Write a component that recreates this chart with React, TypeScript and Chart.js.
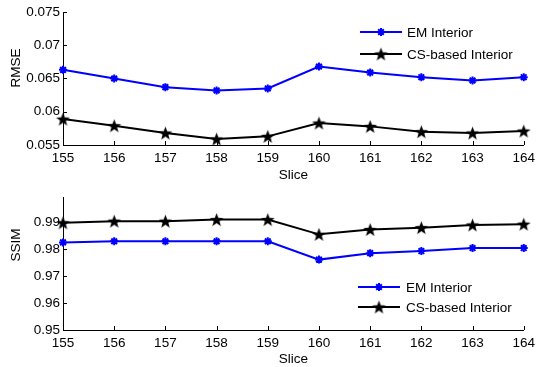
import React, { useEffect, useRef } from 'react';
import { Chart, registerables } from 'chart.js';
Chart.register(...registerables);

const slices = ['155', '156', '157', '158', '159', '160', '161', '162', '163', '164'];
const rmseEM = [0.0663, 0.065, 0.0637, 0.0632, 0.0635, 0.0668, 0.0659, 0.0652, 0.0647, 0.0652];
const rmseCS = [0.0589, 0.0579, 0.0568, 0.0559, 0.0563, 0.0583, 0.0578, 0.057, 0.0568, 0.0571];
const ssimEM = [0.9826, 0.983, 0.983, 0.983, 0.983, 0.9762, 0.9786, 0.9794, 0.9805, 0.9805];
const ssimCS = [0.9899, 0.9905, 0.9905, 0.9911, 0.9911, 0.9856, 0.9874, 0.9881, 0.9891, 0.9894];
const rmseTicks = [0.055, 0.06, 0.065, 0.07, 0.075];
const ssimTicks = [0.95, 0.96, 0.97, 0.98, 0.99];
const seriesNames = ['EM Interior', 'CS-based Interior'];

const FONT_FAMILY = '"Liberation Sans", Arial, Helvetica, sans-serif';
const FONT = { family: FONT_FAMILY, size: 13.5 };

function makePentagram(): HTMLCanvasElement {
  const c = document.createElement('canvas');
  const s = 15;
  c.width = s;
  c.height = s;
  const ctx = c.getContext('2d')!;
  const cx = s / 2, cy = s / 2 + 0.6;
  const R = 7.2, r = 3.0;
  ctx.beginPath();
  for (let i = 0; i < 10; i++) {
    const rad = i % 2 === 0 ? R : r;
    const a = -Math.PI / 2 + (i * Math.PI) / 5;
    const px = cx + rad * Math.cos(a);
    const py = cy + rad * Math.sin(a);
    if (i === 0) ctx.moveTo(px, py);
    else ctx.lineTo(px, py);
  }
  ctx.closePath();
  ctx.fillStyle = '#000';
  ctx.fill();
  return c;
}

function drawAsterisk(ctx: CanvasRenderingContext2D, x: number, y: number, rad: number, color: string) {
  ctx.save();
  ctx.strokeStyle = color;
  ctx.lineWidth = 2;
  ctx.beginPath();
  ctx.moveTo(x - rad, y); ctx.lineTo(x + rad, y);
  ctx.moveTo(x, y - rad); ctx.lineTo(x, y + rad);
  const d = rad * 0.707;
  ctx.moveTo(x - d, y - d); ctx.lineTo(x + d, y + d);
  ctx.moveTo(x - d, y + d); ctx.lineTo(x + d, y - d);
  ctx.stroke();
  ctx.restore();
}

const decoPlugin = {
  id: 'deco',
  afterDraw(chart: any, _args: any, opts: any) {
    const ctx: CanvasRenderingContext2D = chart.ctx;
    const xs = chart.scales.x;
    const ys = chart.scales.y;
    const area = chart.chartArea;
    ctx.save();
    ctx.strokeStyle = '#000';
    ctx.lineWidth = 1;
    xs.ticks.forEach((_t: any, i: number) => {
      const px = Math.round(xs.getPixelForTick(i)) + 0.5;
      ctx.beginPath();
      ctx.moveTo(px, area.bottom);
      ctx.lineTo(px, area.bottom - 4);
      ctx.stroke();
    });
    ys.ticks.forEach((_t: any, i: number) => {
      const py = Math.round(ys.getPixelForTick(i)) + 0.5;
      ctx.beginPath();
      ctx.moveTo(area.left, py);
      ctx.lineTo(area.left + 4, py);
      ctx.stroke();
    });
    // y title
    ctx.save();
    ctx.translate(opts.yTitleX, opts.yTitleY);
    ctx.rotate(-Math.PI / 2);
    ctx.fillStyle = '#000';
    ctx.font = `13.5px ${FONT_FAMILY}`;
    ctx.textAlign = 'center';
    ctx.textBaseline = 'middle';
    ctx.fillText(opts.yTitle, 0, 0);
    ctx.restore();
    // legend
    const rows: number[] = opts.legendRows;
    chart.data.datasets.forEach((ds: any, i: number) => {
      const yy = rows[i];
      ctx.strokeStyle = ds.borderColor;
      ctx.lineWidth = 2;
      ctx.beginPath();
      ctx.moveTo(opts.legendX0, yy);
      ctx.lineTo(opts.legendX1, yy);
      ctx.stroke();
      const mx = (opts.legendX0 + opts.legendX1) / 2;
      if (ds.pointStyle === 'star') {
        drawAsterisk(ctx, mx, yy, 4, ds.borderColor);
      } else {
        const img = ds.pointStyle as HTMLCanvasElement;
        ctx.drawImage(img, mx - img.width / 2, yy - img.height / 2);
      }
      ctx.fillStyle = '#000';
      ctx.font = `13.5px ${FONT_FAMILY}`;
      ctx.textAlign = 'left';
      ctx.textBaseline = 'middle';
      ctx.fillText(ds.label, opts.legendTextX, yy + 1);
    });
    ctx.restore();
  },
};

function buildConfig(
  em: number[], cs: number[], ticks: number[], min: number, max: number,
  topPad: number, xHeight: number, deco: any, star: HTMLCanvasElement
): any {
  return {
    type: 'line',
    data: {
      labels: slices,
      datasets: [
        {
          label: seriesNames[0], data: em, borderColor: '#0000ff', backgroundColor: '#0000ff',
          borderWidth: 2, pointStyle: 'star', pointRadius: 4, pointBorderWidth: 2,
          pointBorderColor: '#0000ff', tension: 0,
        },
        {
          label: seriesNames[1], data: cs, borderColor: '#000000', backgroundColor: '#000000',
          borderWidth: 2, pointStyle: star, pointRadius: 7, tension: 0,
        },
      ],
    },
    options: {
      responsive: false,
      maintainAspectRatio: false,
      animation: false,
      layout: { padding: { top: topPad, right: 12, left: 0, bottom: 0 } },
      plugins: { legend: { display: false }, tooltip: { enabled: false }, deco },
      scales: {
        x: {
          type: 'category',
          offset: false,
          grid: { display: false, drawTicks: false },
          border: { display: true, color: '#000', width: 1 },
          ticks: { color: '#000', font: FONT, padding: 5, maxRotation: 0, autoSkip: false },
          title: { display: true, text: 'Slice', color: '#000', font: FONT, padding: { top: 0, bottom: 0 } },
          afterFit: (s: any) => { s.height = xHeight; },
        },
        y: {
          min, max,
          grid: { display: false, drawTicks: false },
          border: { display: true, color: '#000', width: 1 },
          ticks: {
            color: '#000', font: FONT, padding: 3,
            callback: (v: any) => String(Number(Number(v).toFixed(4))),
          },
          afterBuildTicks: (s: any) => { s.ticks = ticks.map((v) => ({ value: v })); },
          afterFit: (s: any) => { s.width = 63; },
        },
      },
    },
    plugins: [decoPlugin],
  };
}

export default function App() {
  const c1 = useRef<HTMLCanvasElement>(null);
  const c2 = useRef<HTMLCanvasElement>(null);

  useEffect(() => {
    document.body.style.margin = '0';
    document.body.style.background = '#fff';
    const star = makePentagram();
    const ch1 = new Chart(c1.current!, buildConfig(
      rmseEM, rmseCS, rmseTicks, 0.055, 0.075, 12, 38,
      { yTitle: 'RMSE', yTitleX: 16, yTitleY: 68, legendRows: [32, 54], legendX0: 360, legendX1: 402, legendTextX: 407 },
      star
    ));
    const ch2 = new Chart(c2.current!, buildConfig(
      ssimEM, ssimCS, ssimTicks, 0.95, 0.9995, 14, 37,
      { yTitle: 'SSIM', yTitleX: 16, yTitleY: 62, legendRows: [104, 124], legendX0: 358, legendX1: 400, legendTextX: 406 },
      star
    ));
    return () => { ch1.destroy(); ch2.destroy(); };
  }, []);

  return (
    <div style={{ position: 'absolute', left: 0, top: 0, width: 540, height: 367, background: '#fff' }}>
      <canvas ref={c1} width={540} height={183} style={{ position: 'absolute', left: 0, top: 0, width: 540, height: 183 }} />
      <canvas ref={c2} width={540} height={184} style={{ position: 'absolute', left: 0, top: 183, width: 540, height: 184 }} />
    </div>
  );
}
